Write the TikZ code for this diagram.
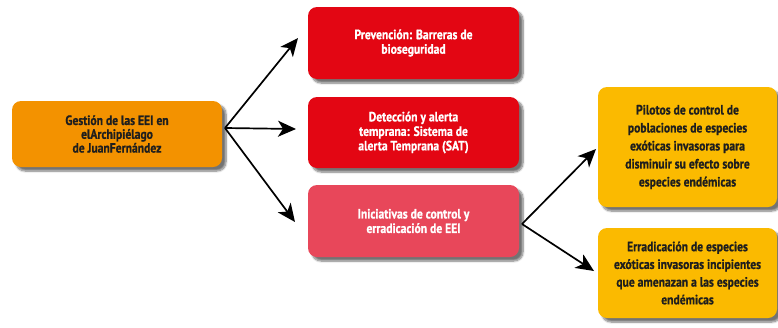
\documentclass[tikz,border=0pt]{standalone}
\usepackage{fontspec}
\setmainfont{PT Sans}[BoldFont={PT Sans Bold}, BoldFeatures={FakeBold=0.8}, FakeStretch=0.86]
\usetikzlibrary{arrows.meta,shadows.blur}
\definecolor{orangebox}{HTML}{F39200}
\definecolor{redbox}{HTML}{E30613}
\definecolor{pinkbox}{HTML}{E8475A}
\definecolor{yellowbox}{HTML}{FBBA00}
\definecolor{darktext}{HTML}{1E1E1E}
\tikzset{
  box/.style={rounded corners=9pt, inner sep=3pt, align=center, font=\bfseries\fontsize{13.5}{14.5}\selectfont,
    blur shadow={shadow xshift=4pt, shadow yshift=-4pt, shadow blur steps=8, shadow blur extra rounding=2pt, shadow opacity=55}},
  conn/.style={line width=1.7pt, -{Stealth[length=18pt,width=16pt,inset=5pt]}}
}
\begin{document}
\begin{tikzpicture}[x=1pt,y=-1pt]
\useasboundingbox (0,0) rectangle (778,327);
\node[box, fill=orangebox, text=darktext, minimum width=210pt, minimum height=66pt,
  font=\bfseries\fontsize{13.5}{13.8}\selectfont] (gest) at (117,134)
  {Gestión de las EEI en\\elArchipiélago\\de JuanFernández};
\node[box, fill=redbox, text=white, minimum width=211pt, minimum height=72pt] (prev) at (413.5,43)
  {Prevención: Barreras de\\bioseguridad};
\node[box, fill=redbox, text=white, minimum width=211pt, minimum height=71pt] (det) at (413.5,132.5)
  {Detección y alerta\\temprana: Sistema de\\alerta Temprana (SAT)};
\node[box, fill=pinkbox, text=white, minimum width=211pt, minimum height=72pt] (ini) at (413.5,221)
  {Iniciativas de control y\\erradicación de EEI};
\node[box, fill=yellowbox, text=darktext, minimum width=179pt, minimum height=120pt,
  font=\bfseries\fontsize{13.5}{18}\selectfont] (pil) at (687.5,147)
  {Pilotos de control de\\poblaciones de especies\\exóticas invasoras para\\disminuir su efecto sobre\\especies endémicas};
\node[box, fill=yellowbox, text=darktext, minimum width=179pt, minimum height=90pt,
  font=\bfseries\fontsize{13.5}{17.7}\selectfont] (err) at (687.5,273)
  {Erradicación de especies\\exóticas invasoras incipientes\\que amenazan a las especies\\endémicas};
\coordinate (s1) at (225,128);
\coordinate (t1) at (298,38);
\coordinate (t2) at (296,129);
\coordinate (t3) at (295,222);
\coordinate (s2) at (522,224);
\coordinate (t4) at (596,149);
\coordinate (t5) at (594,271);
\draw[conn] (s1) -- (t1);
\draw[conn] (s1) -- (t2);
\draw[conn] (s1) -- (t3);
\draw[conn] (s2) -- (t4);
\draw[conn] (s2) -- (t5);
\end{tikzpicture}
\end{document}
